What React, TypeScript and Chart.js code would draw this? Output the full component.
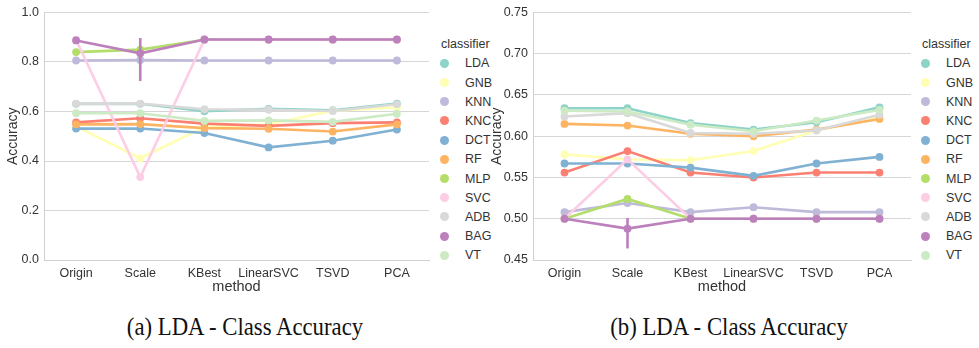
import React, { useEffect, useRef } from 'react';
import { Chart, registerables } from 'chart.js';

Chart.register(...registerables);

// ---------- categories ----------
const methods = ['Origin', 'Scale', 'KBest', 'LinearSVC', 'TSVD', 'PCA'];
const classifiers = ['LDA', 'GNB', 'KNN', 'KNC', 'DCT', 'RF', 'MLP', 'SVC', 'ADB', 'BAG', 'VT'];
const palette = ['#8dd3c7', '#ffffb3', '#bebada', '#fb8072', '#80b1d3', '#fdb462', '#b3de69', '#fccde5', '#d9d9d9', '#bc80bd', '#ccebc5'];

// ---------- panel (a) values ----------
const aLDA = [0.631, 0.631, 0.601, 0.611, 0.605, 0.632];
const aGNB = [0.540, 0.411, 0.537, 0.548, 0.603, 0.616];
const aKNN = [0.806, 0.808, 0.806, 0.806, 0.806, 0.806];
const aKNC = [0.556, 0.573, 0.551, 0.542, 0.553, 0.556];
const aDCT = [0.531, 0.531, 0.513, 0.455, 0.482, 0.527];
const aRF = [0.548, 0.549, 0.533, 0.530, 0.519, 0.548];
const aMLP = [0.840, 0.850, 0.890, 0.890, 0.890, 0.890];
const aSVC = [0.890, 0.335, 0.890, 0.890, 0.890, 0.890];
const aADB = [0.632, 0.632, 0.609, 0.607, 0.602, 0.629];
const aBAG = [0.887, 0.835, 0.891, 0.891, 0.891, 0.891];
const aVT = [0.593, 0.593, 0.562, 0.564, 0.558, 0.591];
const aBagCI = [0.723, 0.897]; // error bar of BAG at "Scale"

// ---------- panel (b) values ----------
const bLDA = [0.634, 0.634, 0.616, 0.608, 0.617, 0.635];
const bGNB = [0.578, 0.572, 0.571, 0.582, 0.607, 0.623];
const bKNN = [0.508, 0.519, 0.508, 0.514, 0.508, 0.508];
const bKNC = [0.556, 0.582, 0.556, 0.550, 0.556, 0.556];
const bDCT = [0.567, 0.567, 0.562, 0.552, 0.567, 0.575];
const bRF = [0.615, 0.613, 0.603, 0.600, 0.608, 0.621];
const bMLP = [0.500, 0.524, 0.500, 0.500, 0.500, 0.500];
const bSVC = [0.500, 0.572, 0.500, 0.500, 0.500, 0.500];
const bADB = [0.624, 0.628, 0.604, 0.603, 0.607, 0.626];
const bBAG = [0.500, 0.488, 0.500, 0.500, 0.500, 0.500];
const bVT = [0.631, 0.630, 0.614, 0.606, 0.619, 0.632];
const bBagCI = [0.464, 0.501];

// ---------- axis ticks ----------
const aTicks = [0.0, 0.2, 0.4, 0.6, 0.8, 1.0];
const bTicks = [0.45, 0.5, 0.55, 0.6, 0.65, 0.7, 0.75];

const aSeries = [aLDA, aGNB, aKNN, aKNC, aDCT, aRF, aMLP, aSVC, aADB, aBAG, aVT];
const bSeries = [bLDA, bGNB, bKNN, bKNC, bDCT, bRF, bMLP, bSVC, bADB, bBAG, bVT];

const NARROW = '"Liberation Sans Narrow", "Arial Narrow", "Liberation Sans", Arial, sans-serif';
const TEXT = '#333333';

const errorBarPlugin = {
  id: 'errorBar',
  afterDatasetsDraw(chart: any, _args: any, opts: any) {
    if (!opts || !opts.ci) return;
    const x = chart.scales.x.getPixelForValue(opts.index);
    const y1 = chart.scales.y.getPixelForValue(opts.ci[0]);
    const y2 = chart.scales.y.getPixelForValue(opts.ci[1]);
    const ctx = chart.ctx;
    ctx.save();
    ctx.strokeStyle = opts.color;
    ctx.lineWidth = 2.6;
    ctx.beginPath();
    ctx.moveTo(x, y1);
    ctx.lineTo(x, y2);
    ctx.stroke();
    ctx.restore();
  },
};

type PanelProps = {
  left: number;
  width: number;
  yWidth: number;
  padRight: number;
  series: number[][];
  ticks: number[];
  decimals: number;
  ci: number[];
};

function Panel(p: PanelProps) {
  const ref = useRef<HTMLCanvasElement>(null);
  useEffect(() => {
    const tickFont = { family: NARROW, size: 12.5 };
    const titleFont = { family: NARROW, size: 14.5 };
    const chart = new Chart(ref.current!, {
      type: 'line',
      data: {
        labels: methods,
        datasets: p.series.map((d, i) => ({
          label: classifiers[i],
          data: d,
          borderColor: palette[i],
          backgroundColor: palette[i],
          pointBackgroundColor: palette[i],
          pointBorderColor: palette[i],
          pointBorderWidth: 0,
          pointRadius: 3.9,
          borderWidth: 2.6,
          tension: 0,
          fill: false,
          order: p.series.length - i,
        })),
      },
      options: {
        responsive: false,
        animation: false,
        events: [],
        layout: { padding: { top: 11, right: p.padRight, bottom: 0, left: 0 } },
        plugins: {
          legend: { display: false },
          tooltip: { enabled: false },
          errorBar: { index: 1, ci: p.ci, color: palette[9] },
        } as any,
        scales: {
          x: {
            offset: true,
            grid: { display: false, drawTicks: false },
            border: { display: true, color: '#d0d0d0', width: 1 },
            ticks: { padding: 6, font: tickFont, color: TEXT, maxRotation: 0, autoSkip: false },
            title: { display: true, text: 'method', font: titleFont, color: TEXT, padding: { top: 0, bottom: 4 } },
            afterFit: (s: any) => { s.height = 40; },
          },
          y: {
            min: p.ticks[0],
            max: p.ticks[p.ticks.length - 1],
            afterBuildTicks: (s: any) => { s.ticks = p.ticks.map((v) => ({ value: v })); },
            ticks: {
              padding: 5,
              font: tickFont,
              color: TEXT,
              callback: (v: any) => Number(v).toFixed(p.decimals),
            },
            grid: { color: '#d6d6d6', lineWidth: 1, drawTicks: false },
            border: { display: true, color: '#d0d0d0', width: 1 },
            title: { display: true, text: 'Accuracy', font: { family: '"Liberation Sans", Arial, sans-serif', size: 14 }, color: TEXT, padding: { top: 5, bottom: 0 } },
            afterFit: (s: any) => { s.width = p.yWidth; },
          },
        },
      },
      plugins: [errorBarPlugin],
    } as any);
    return () => chart.destroy();
  }, []);
  return (
    <canvas
      ref={ref}
      width={p.width}
      height={300}
      style={{ position: 'absolute', left: p.left, top: 0, width: p.width, height: 300 }}
    />
  );
}

function Legend({ left }: { left: number }) {
  const rowTop = 63.3;
  const rowStep = 19.2;
  return (
    <div style={{ position: 'absolute', left, top: 0, fontFamily: NARROW, fontSize: 12.5, color: TEXT }}>
      <div style={{ position: 'absolute', left: 0, top: 44 - 8, whiteSpace: 'nowrap', lineHeight: '16px' }}>classifier</div>
      {classifiers.map((c, i) => (
        <div key={c} style={{ position: 'absolute', left: 0, top: rowTop + i * rowStep - 8, height: 16, whiteSpace: 'nowrap' }}>
          <span style={{ position: 'absolute', left: -1.5, top: 3.5, width: 9, height: 9, borderRadius: 4.5, background: palette[i] }} />
          <span style={{ position: 'absolute', left: 24, top: 0, lineHeight: '16px' }}>{c}</span>
        </div>
      ))}
    </div>
  );
}

function Caption({ center, text }: { center: number; text: string }) {
  return (
    <div
      style={{
        position: 'absolute',
        left: center - 200,
        width: 400,
        top: 327 - 15,
        textAlign: 'center',
        fontFamily: '"Liberation Serif", "Times New Roman", serif',
        fontSize: 25,
        lineHeight: '30px',
        color: '#111',
        transform: 'scaleX(0.91)',
        transformOrigin: '50% 50%',
        whiteSpace: 'nowrap',
      }}
    >
      {text}
    </div>
  );
}

export default function App() {
  return (
    <div style={{ position: 'absolute', left: 0, top: 0, width: 979, height: 348, background: '#fff', overflow: 'hidden' }}>
      <Panel left={0} width={435} yWidth={44} padRight={6} series={aSeries} ticks={aTicks} decimals={1} ci={aBagCI} />
      <Legend left={441} />
      <Panel left={484} width={435} yWidth={49} padRight={8} series={bSeries} ticks={bTicks} decimals={2} ci={bBagCI} />
      <Legend left={922} />
      <Caption center={245} text="(a) LDA - Class Accuracy" />
      <Caption center={729} text="(b) LDA - Class Accuracy" />
    </div>
  );
}
